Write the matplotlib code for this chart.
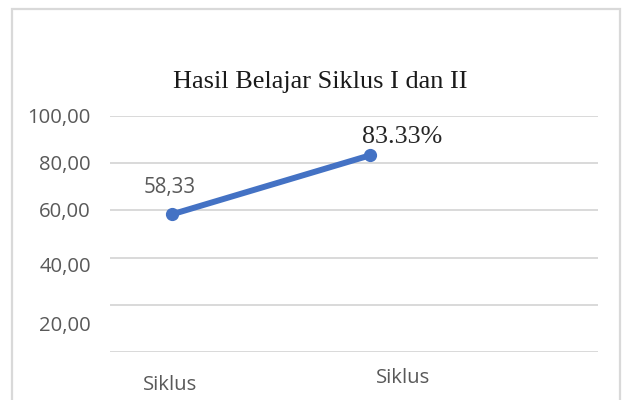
import matplotlib
matplotlib.use("Agg")
import matplotlib.pyplot as plt
from matplotlib.patches import Rectangle
from matplotlib.transforms import blended_transform_factory, offset_copy

# ---- data ----
categories = ["Siklus", "Siklus"]
values = [58.33, 83.33]
value_labels = ["58,33", "83.33%"]
y_ticks = [0, 20, 40, 60, 80, 100]
y_tick_labels = ["", "20,00", "40,00", "60,00", "80,00", "100,00"]
title = "Hasil Belajar Siklus I dan II"

# ---- layout / style ----
W, H = 625, 400
fig = plt.figure(figsize=(W / 100, H / 100), dpi=100)
fig.patch.set_facecolor("white")

def px(x0, y0, x1, y1):
    return [x0 / W, 1 - y1 / H, (x1 - x0) / W, (y1 - y0) / H]

ax = fig.add_axes(px(110, 116, 598, 352))
sans = ["Open Sans", "DejaVu Sans"]
serif = ["Liberation Serif", "DejaVu Serif"]
grid_c = "#d9d9d9"
txt_c = "#595959"
line_c = "#4472C4"

# outer frame
fig.patches.append(Rectangle((12 / W, -0.05), (620 - 12) / W, 1.05 - 9.5 / H,
                             transform=fig.transFigure, fill=False,
                             edgecolor=grid_c, lw=1.6, clip_on=False))

x = list(range(len(values)))
ax.plot(x, values, color=line_c, lw=4.3, marker="o", markersize=8.5,
        solid_capstyle="round", zorder=3)

ax.set_ylim(0, 100)
ax.set_xlim(-0.313, 2.152)
ax.set_yticks(y_ticks)
ax.set_yticklabels([])
ax.set_xticks([])
ax.grid(False)
for y in y_ticks:
    ax.axhline(y, color=grid_c, lw=1.4, zorder=1)
for s in ax.spines.values():
    s.set_visible(False)
ax.tick_params(left=False, bottom=False)

# y tick labels (shifted as in the reference)
y_offsets_pt = [0, -15.6, -6.5, -1.4, -1.3, -1.2]
ytr = blended_transform_factory(ax.transAxes, ax.transData)
for yv, lab, off in zip(y_ticks, y_tick_labels, y_offsets_pt):
    if not lab:
        continue
    tr = offset_copy(ytr, fig=fig, x=-13.7, y=off, units="points")
    ax.text(0, yv, lab, transform=tr, ha="right", va="center",
            fontsize=14.6, color=txt_c, family=sans)

# x category labels
xtr = blended_transform_factory(ax.transData, ax.transAxes)
x_offsets_pt = [(-1.4, -23.8), (23.8, -18.7)]
for xi, lab, (ox, oy) in zip(x, categories, x_offsets_pt):
    tr = offset_copy(xtr, fig=fig, x=ox, y=oy, units="points")
    ax.text(xi, 0, lab, transform=tr, ha="center", va="center",
            fontsize=14.6, color=txt_c, family=sans)

# data labels
ax.annotate(value_labels[0], (x[0], values[0]), xytext=(-1.4, 19.4),
            textcoords="offset points", ha="center", va="center",
            fontsize=14.8, color=txt_c, family=sans)
ax.annotate(value_labels[1], (x[1], values[1]), xytext=(23, 13),
            textcoords="offset points", ha="center", va="center",
            fontsize=18.7, color="#262626", family=serif)

fig.text(320 / W, 1 - 88 / H, title, ha="center", va="baseline",
         fontsize=18.9, color="#1a1a1a", family=serif)

fig.savefig("out.png", dpi=100)
